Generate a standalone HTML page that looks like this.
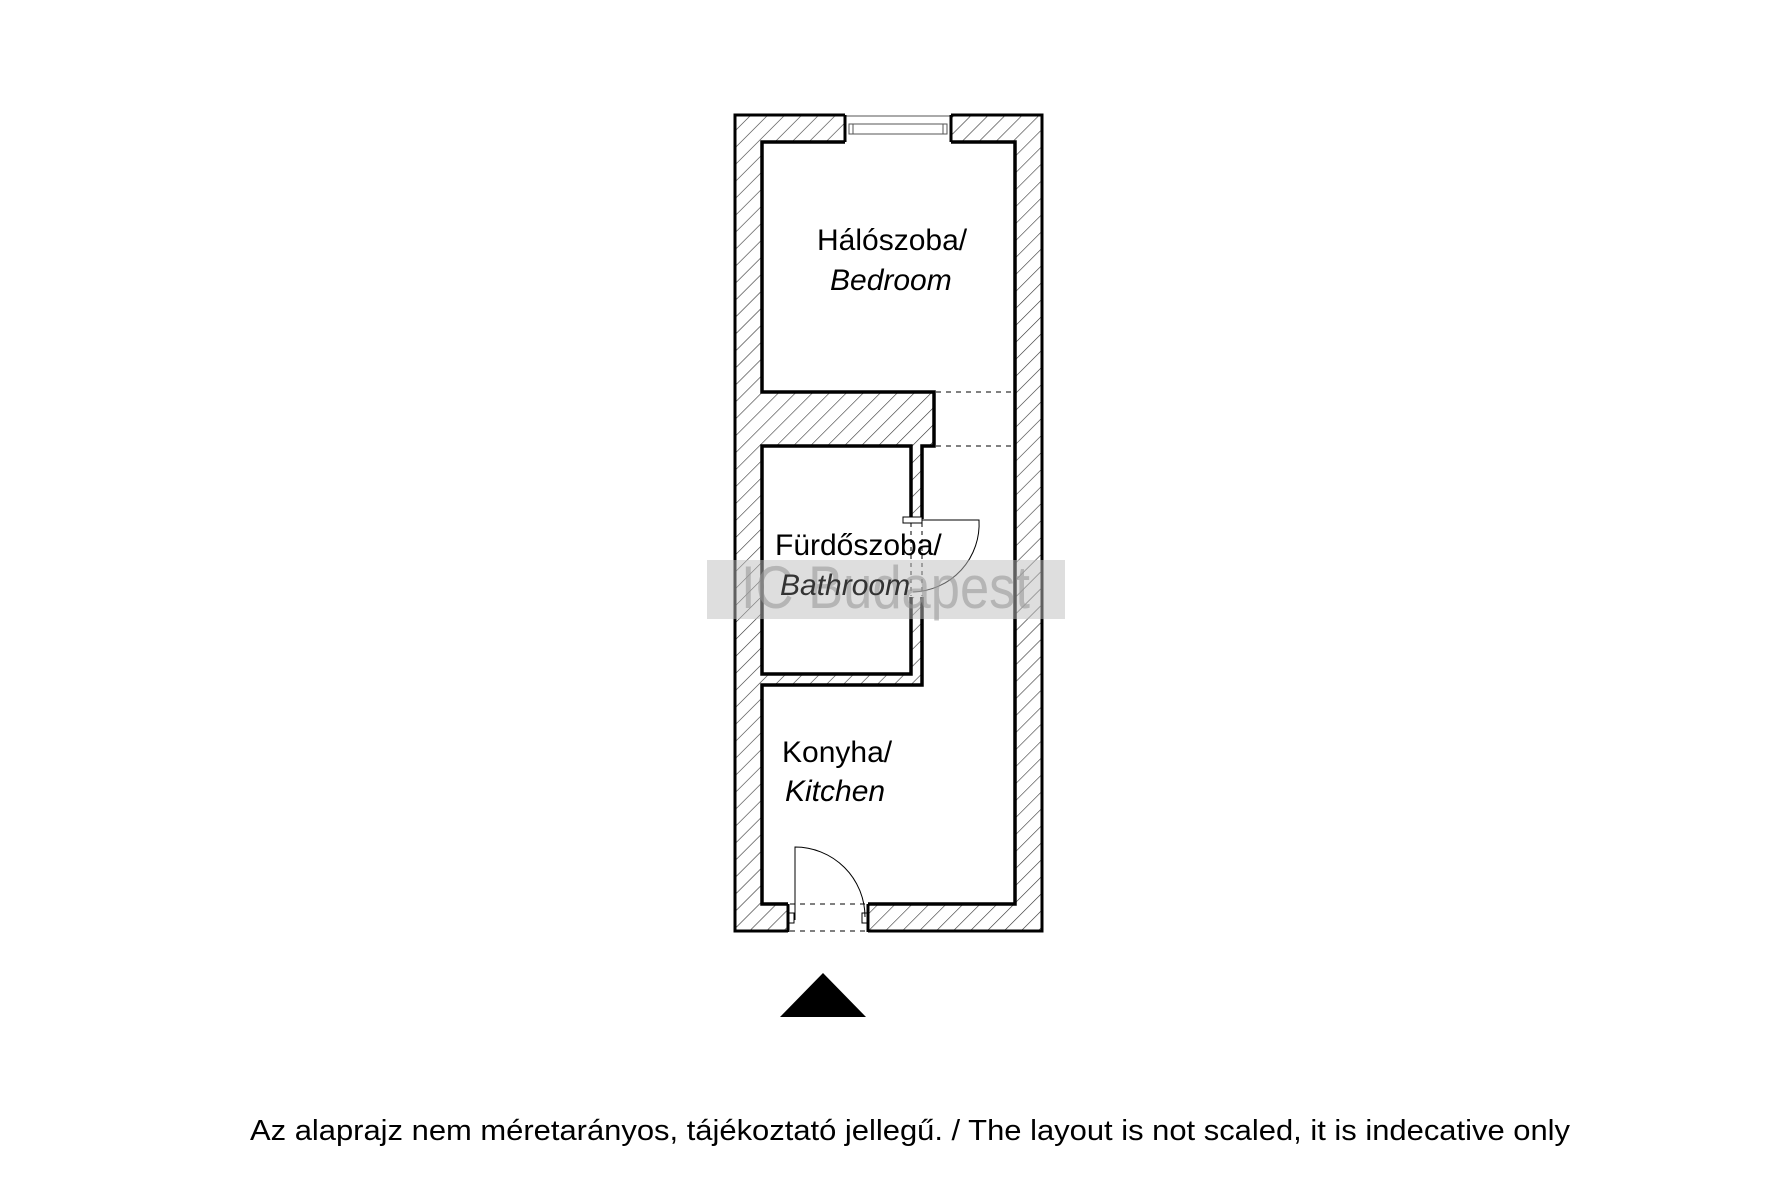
<!DOCTYPE html>
<html><head><meta charset="utf-8"><style>
html,body{margin:0;padding:0;background:#fff;}
svg{display:block;}
text{font-family:"Liberation Sans","DejaVu Sans",sans-serif;}
</style></head><body>
<svg width="1772" height="1181" viewBox="0 0 1772 1181" xmlns="http://www.w3.org/2000/svg">
<defs>
<pattern id="h" patternUnits="userSpaceOnUse" width="12" height="12" patternTransform="rotate(45)">
<rect width="12" height="12" fill="#fff"/>
<line x1="0" y1="0" x2="0" y2="12" stroke="#333" stroke-width="1.2"/>
</pattern>
</defs>
<rect x="0" y="0" width="1772" height="1181" fill="#fff"/>
<rect x="735" y="115" width="307" height="816" fill="url(#h)" stroke="#000" stroke-width="3"/>
<polygon points="762,142 1015,142 1015,904 762,904 762,685 922,685 922,446 934,446 934,392 762,392" fill="#fff" stroke="#000" stroke-width="3.5"/>
<polygon points="762,446 911,446 911,674 762,674" fill="#fff" stroke="#000" stroke-width="3.5"/>
<rect x="909" y="519" width="15" height="78" fill="#fff"/>
<rect x="903" y="517" width="19" height="6" fill="#fff" stroke="#000" stroke-width="1"/>
<line x1="911" y1="523" x2="911" y2="596" stroke="#000" stroke-width="1" stroke-dasharray="4,4"/>
<line x1="922" y1="523" x2="922" y2="596" stroke="#000" stroke-width="1" stroke-dasharray="4,4"/>
<path d="M922,520 L979,520 A68,68 0 0 1 913,592" fill="none" stroke="#000" stroke-width="1"/>
<line x1="936" y1="392" x2="1013" y2="392" stroke="#000" stroke-width="1" stroke-dasharray="5,5"/>
<line x1="936" y1="446" x2="1013" y2="446" stroke="#000" stroke-width="1" stroke-dasharray="5,5"/>
<rect x="845" y="112" width="106" height="32" fill="#fff"/>
<line x1="845" y1="116" x2="951" y2="116" stroke="#555" stroke-width="1"/>
<rect x="849" y="124" width="98" height="10" fill="none" stroke="#555" stroke-width="1"/>
<line x1="853" y1="124" x2="853" y2="134" stroke="#555" stroke-width="1"/>
<line x1="943" y1="124" x2="943" y2="134" stroke="#555" stroke-width="1"/>
<line x1="845" y1="115" x2="845" y2="142" stroke="#000" stroke-width="3"/>
<line x1="951" y1="115" x2="951" y2="142" stroke="#000" stroke-width="3"/>
<rect x="788" y="902" width="80" height="32" fill="#fff"/>
<line x1="788" y1="904" x2="788" y2="932" stroke="#000" stroke-width="3"/>
<line x1="868" y1="904" x2="868" y2="932" stroke="#000" stroke-width="3"/>
<rect x="789" y="913" width="5" height="10" fill="#fff" stroke="#000" stroke-width="1"/>
<rect x="862" y="913" width="5" height="10" fill="#fff" stroke="#000" stroke-width="1"/>
<line x1="790" y1="904" x2="866" y2="904" stroke="#000" stroke-width="1" stroke-dasharray="5,5"/>
<line x1="790" y1="931" x2="866" y2="931" stroke="#000" stroke-width="1" stroke-dasharray="5,5"/>
<path d="M795,920 L795,847 A70,70 0 0 1 865,917" fill="none" stroke="#000" stroke-width="1"/>
<text x="817" y="250" font-size="30">Hálószoba/</text>
<text x="830" y="290" font-size="30" font-style="italic">Bedroom</text>
<text x="775" y="555" font-size="30">Fürdőszoba/</text>
<text x="782" y="762" font-size="30">Konyha/</text>
<text x="785" y="801" font-size="30" font-style="italic">Kitchen</text>
<rect x="707" y="560" width="358" height="59" fill="#bdbdbd" fill-opacity="0.5"/>
<text x="741" y="608" font-size="60" fill="#9a9a9a" fill-opacity="0.6" textLength="289" lengthAdjust="spacingAndGlyphs">IC Budapest</text>
<text x="780" y="595" font-size="30" font-style="italic" fill="#333">Bathroom</text>
<polygon points="823,973 866,1017 780,1017" fill="#000"/>
<text x="250" y="1140" font-size="29" textLength="1320" lengthAdjust="spacingAndGlyphs">Az alaprajz nem méretarányos, tájékoztató jellegű. / The layout is not scaled, it is indecative only</text>
</svg>
</body></html>
